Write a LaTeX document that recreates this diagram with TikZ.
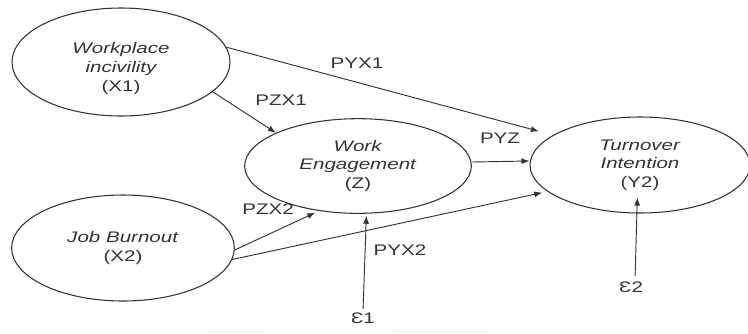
\documentclass[tikz,border=0pt]{standalone}
\usepackage{fontspec}
\setmainfont[FakeStretch=1.34]{Liberation Sans}
\usetikzlibrary{shapes.geometric,arrows.meta}
\definecolor{ink}{HTML}{333333}
\definecolor{smudge}{HTML}{F5F6EE}
\tikzset{
  var/.style={ellipse, draw=ink, line width=0.8pt, inner sep=0pt, align=center, text=ink},
  coef/.style={text=ink, inner sep=1pt},
  link/.style={draw=ink, line width=0.7pt, -{Latex[length=6pt,width=4.5pt]}},
}
\begin{document}
\begin{tikzpicture}[x=0.75pt,y=-0.75pt,font=\fontsize{11.5}{14}\selectfont]
 \useasboundingbox (0,0) rectangle (748,333);
 \fill[smudge] (207,330) rectangle (265,333);
 \fill[smudge] (393,330) rectangle (488,333);

 % the four variables
 \node[var, minimum width=163.5pt, minimum height=81pt] (X1) at (121,62)
   {\raisebox{-5pt}[\height][\depth]{\begin{tabular}{@{}c@{}}\itshape Workplace\\ \itshape incivility\\ (X1)\end{tabular}}};
 \node[var, minimum width=167pt, minimum height=79.5pt] (X2) at (123,248) {\textit{Job Burnout}\\(X2)};
 \node[var, minimum width=170pt, minimum height=71pt] (Z) at (358,166) {\textit{Work}\\\textit{Engagement}\\(Z)};
 \node[var, minimum width=165pt, minimum height=72pt] (Y2) at (640,165) {\textit{Turnover}\\\textit{Intention}\\(Y2)};

 % error terms
 \node[coef] (e1) at (363,318) {Ɛ1};
 \node[coef] (e2) at (631,287) {Ɛ2};

 % paths
 \draw[link, shorten >=11pt] (X1.8) -- (Y2.161);
 \draw[link] (X1.-18) -- (Z.158);
 \draw[link] ([yshift=3pt]Z.east) -- ([yshift=3pt]Y2.west);
 \draw[link, shorten >=3pt] (X2.-1) -- (Z.229);
 \draw[link, shorten >=4pt] (X2.-6) -- (Y2.196);
 \draw[link, shorten <=1.5pt, shorten >=1.5pt] (e1.north) -- (Z.280);
 \draw[link, shorten <=3pt] ([xshift=3pt]e2.north) -- ([xshift=-2pt,yshift=12pt]Y2.south);

 % path coefficients
 \node[coef] (pyx1) at (357,63) {PYX1};
 \node[coef] (pzx1) at (281,100) {PZX1};
 \node[coef] (pyz) at (500,138) {PYZ};
 \node[coef] (pzx2) at (268,209) {PZX2};
 \node[coef] (pyx2) at (400,250) {PYX2};
\end{tikzpicture}
\end{document}
